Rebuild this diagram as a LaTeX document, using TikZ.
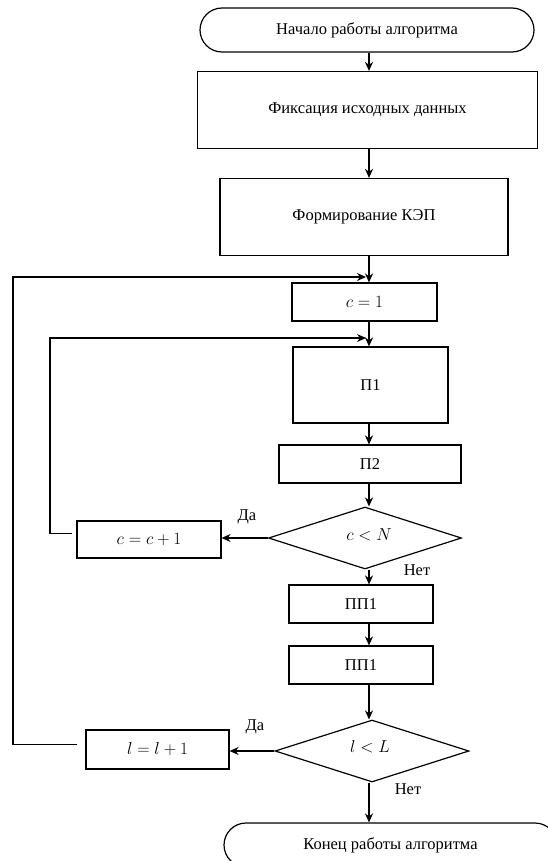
\documentclass[tikz,border=0pt]{standalone}
\usepackage{fontspec}
\setmainfont{Liberation Serif}
\usetikzlibrary{shapes.geometric,arrows.meta,calc}

\begin{document}
\begin{tikzpicture}[x=1pt,y=-1pt,
  every node/.style={font=\fontsize{16.5}{19}\selectfont},
  box/.style={draw, line width=1.2pt, rectangle, inner sep=0pt, anchor=center},
  term/.style={box, rounded corners=22pt},
  cond/.style={draw, line width=1.2pt, diamond, aspect=3.1, inner sep=0pt, anchor=center},
  link/.style={line width=1.3pt, -{Stealth[length=9pt,width=8pt]}},
  lbl/.style={inner sep=0pt}
]
\clip (0,0) rectangle (548,861);
\fill[white] (0,0) rectangle (548,861);

% vertical axis of the main flow
\coordinate (ax) at (369,0);

% blocks
\node[term, minimum width=334pt, minimum height=44pt] (start) at (367,30) {Начало работы алгоритма};
\node[box, minimum width=340pt, minimum height=77pt] (fix) at (367.5,110) {Фиксация исходных данных};
\node[box, minimum width=288pt, minimum height=77pt] (form) at (364,217) {Формирование КЭП};
\node[box, minimum width=145pt, minimum height=38pt] (cinit) at (364.5,302) {$c = 1$};
\node[box, minimum width=155pt, minimum height=76pt] (p1) at (370.5,385) {П1};
\node[box, minimum width=182pt, minimum height=38pt] (p2) at (370,464) {П2};
\node[cond, minimum width=193pt, minimum height=62pt] (dc) at (365,538) {};
\node[lbl] at (369,535) {$c < N$};
\node[box, minimum width=144pt, minimum height=37pt] (cinc) at (149,539.5) {$c = c + 1$};
\node[box, minimum width=144pt, minimum height=38pt] (pp1a) at (361,604) {ПП1};
\node[box, minimum width=144pt, minimum height=38pt] (pp1b) at (361,665) {ПП1};
\node[cond, minimum width=194pt, minimum height=62pt] (dl) at (372,751) {};
\node[lbl] at (370,747) {$l < L$};
\node[box, minimum width=143pt, minimum height=39pt] (linc) at (157.5,749.5) {$l = l + 1$};
\node[term, minimum width=333pt, minimum height=44pt] (stop) at (390.5,845) {Конец работы алгоритма};

% branch labels
\node[lbl] (yes1) at (247,517) {Да};
\node[lbl] (no1) at (417,570) {Нет};
\node[lbl] (yes2) at (255,727) {Да};
\node[lbl] (no2) at (408,789) {Нет};

% main flow
\draw[link] (start.south -| ax) -- (fix.north -| ax);
\draw[link] (fix.south -| ax) -- (form.north -| ax);
\draw[link] (form.south -| ax) -- (cinit.north -| ax);
\draw[link] (cinit.south -| ax) -- (p1.north -| ax);
\draw[link] (p1.south -| ax) -- (p2.north -| ax);
\draw[link] (p2.south -| ax) -- (dc.north -| ax);
\draw[link] (dc.south -| ax) -- (pp1a.north -| ax);
\draw[link] (pp1a.south -| ax) -- (pp1b.north -| ax);
\draw[link] (pp1b.south -| ax) -- (dl.north -| ax);
\draw[link] (dl.south -| ax) -- (stop.north -| ax);

% "yes" branches
\draw[link] (dc.west) -- (dc.west -| cinc.east);
\draw[link] (dl.west) -- (dl.west -| linc.east);

% loop back over c
\coordinate (cback) at ($(cinc.west)+(-4,-6)$);
\coordinate (cjoin) at (366,338);
\draw[link] (cback) -- (50,533.5) -- (50,338) -- (cjoin);

% loop back over l
\coordinate (lback) at ($(linc.west)+(-8,-5)$);
\coordinate (ljoin) at (366,277);
\draw[link] (lback) -- (13,744.5) -- (13,277) -- (ljoin);
\end{tikzpicture}
\end{document}
